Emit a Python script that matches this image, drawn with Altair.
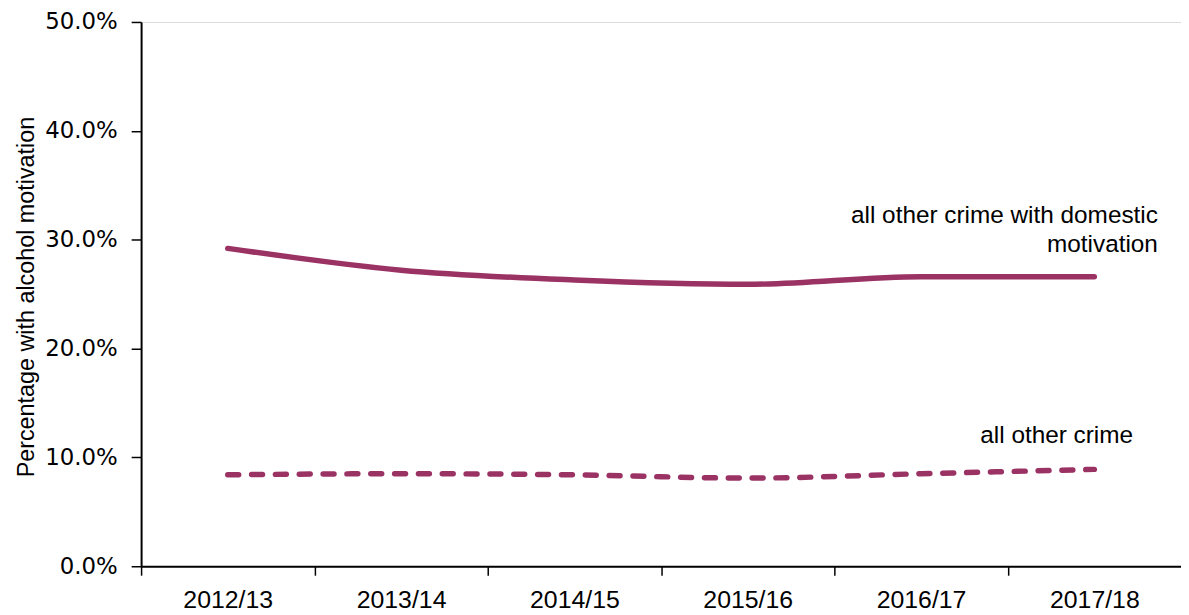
import altair as alt
import pandas as pd

years = ["2012/13", "2013/14", "2014/15", "2015/16", "2016/17", "2017/18"]
domestic = [0.292, 0.272, 0.263, 0.259, 0.266, 0.266]
other = [0.084, 0.085, 0.084, 0.081, 0.085, 0.089]
series_names = ["all other crime with domestic motivation", "all other crime"]
annot_lines = ["all other crime with domestic", "motivation", "all other crime"]

COLOR = "#9b3264"
W, H = 1047, 548

df = pd.DataFrame({
    "year": years * 2,
    "value": domestic + other,
    "series": [series_names[0]] * len(years) + [series_names[1]] * len(years),
})

ann = pd.DataFrame({
    "year": [years[-1]] * 3,
    "value": [domestic[-1], domestic[-1], other[-1]],
    "label": annot_lines,
})

x = alt.X(
    "year:N",
    sort=years,
    scale=alt.Scale(type="point", padding=0.5),
    axis=alt.Axis(
        title=None, labelAngle=0, labelFont="Liberation Sans", labelFontSize=25,
        labelColor="black", tickSize=9, tickWidth=1.5, tickColor="black",
        tickOffset=-W / 12, labelOffset=W / 12, domainColor="black", domainWidth=2,
        labelPadding=13,
    ),
)
y = alt.Y(
    "value:Q",
    scale=alt.Scale(domain=[0, 0.5], nice=False, zero=True),
    axis=alt.Axis(
        values=[0, 0.1, 0.2, 0.3, 0.4, 0.5], format=".1%", grid=False,
        labelFont="DejaVu Sans", labelFontSize=23, labelColor="black", labelPadding=14,
        tickSize=10, tickWidth=1.5, tickColor="black", domainColor="black", domainWidth=2,
        title="Percentage with alcohol motivation", titleFont="Liberation Sans",
        titleFontSize=23.5, titleFontWeight="normal", titleColor="black",
        titleAngle=270, titleX=-115.5, titleY=276.5, titleAlign="center",
        titleBaseline="middle",
    ),
)

base = alt.Chart(df)
solid = base.transform_filter(alt.datum.series == series_names[0]).mark_line(
    color=COLOR, strokeWidth=5.5, strokeCap="round", interpolate="monotone"
).encode(x=x, y=y)
dashed = base.transform_filter(alt.datum.series == series_names[1]).mark_line(
    color=COLOR, strokeWidth=5.5, strokeCap="round", strokeDash=[11, 13],
    interpolate="monotone"
).encode(x=x, y=y)

abase = alt.Chart(ann)
tkw = dict(font="Liberation Sans", fontSize=24.5, color="black", baseline="alphabetic")
t1 = abase.transform_filter(alt.datum.label == annot_lines[0]).mark_text(
    align="right", dx=64, dy=-54.5, **tkw).encode(x=alt.X("year:N", sort=years), y="value:Q", text="label:N")
t2 = abase.transform_filter(alt.datum.label == annot_lines[1]).mark_text(
    align="right", dx=64, dy=-24.5, **tkw).encode(x=alt.X("year:N", sort=years), y="value:Q", text="label:N")
t3 = abase.transform_filter(alt.datum.label == annot_lines[2]).mark_text(
    align="right", dx=39, dy=-26.5, **tkw).encode(x=alt.X("year:N", sort=years), y="value:Q", text="label:N")

chart = alt.layer(solid, dashed, t1, t2, t3).properties(
    width=W, height=H,
    autosize=alt.AutoSizeParams(type="none"),
    padding={"left": 134, "top": 12, "right": 0, "bottom": 45},
).configure_view(stroke=None).configure(background="white")

chart.save("out.html", embed_options={"renderer": "svg", "actions": False})
